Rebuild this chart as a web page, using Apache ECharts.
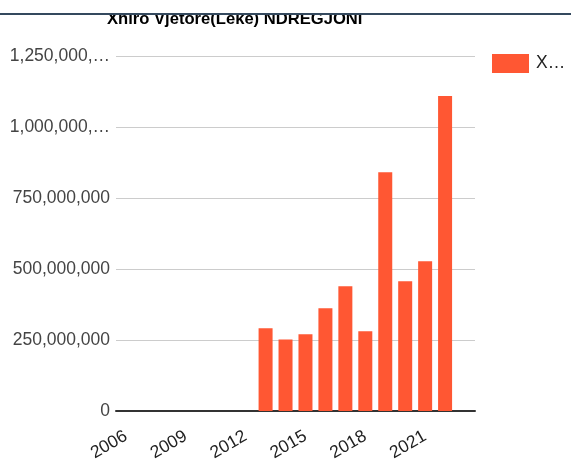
<!DOCTYPE html>
<html>
<head>
<meta charset="utf-8">
<script src="https://cdn.jsdelivr.net/npm/echarts@6/dist/echarts.min.js"></script>
<style>
  html, body { margin: 0; padding: 0; background: #fff; }
  #chart { width: 571px; height: 459px; }
</style>
</head>
<body>
<div id="chart"></div>
<script>
// te dhenat
const titleText = "Xhiro Vjetore(Leke) NDREGJONI";
const seriesName = "Xhiro Vjetore(Leke) NDREGJONI";
const years = ["2006", "2007", "2008", "2009", "2010", "2011", "2012", "2013", "2014",
  "2015", "2016", "2017", "2018", "2019", "2020", "2021", "2022", "2023"];
const xhiro = [null, null, null, null, null, null, null,
  291000000, 252000000, 270000000, 362000000, 439000000, 281000000,
  841000000, 457000000, 527000000, 1109000000, null];
const yTicks = [0, 250000000, 500000000, 750000000, 1000000000, 1250000000];

const chart = echarts.init(document.getElementById("chart"));

function fmt(v) {
  let s = String(Math.round(v)).replace(/\B(?=(\d{3})+(?!\d))/g, ",");
  if (s.length > 11) s = s.slice(0, 10) + "…";
  return s;
}

const options = {
  animation: false,
  textStyle: { fontFamily: "Arial, 'Liberation Sans', sans-serif" },
  title: {
    text: titleText,
    left: 107,
    top: 11,
    padding: 0,
    textStyle: { fontSize: 16.6, fontWeight: "bold", color: "#000" },
  },
  graphic: [
    // bardhe + vija lart qe mbulon titullin
    { type: "rect", z: 100, shape: { x: 0, y: 0, width: 571, height: 13 }, style: { fill: "#fff" } },
    { type: "rect", z: 100, shape: { x: 0, y: 13, width: 571, height: 2 }, style: { fill: "#34495e" } },
  ],
  legend: {
    show: true,
    left: 492,
    top: 54,
    padding: 0,
    itemWidth: 37,
    itemHeight: 19,
    icon: "rect",
    formatter: () => "X…",
    textStyle: { fontSize: 17.5, color: "#222", padding: [0, 0, 0, 2] },
  },
  grid: { left: 116, right: 96, top: 56, bottom: 48, containLabel: false, outerBoundsMode: "none" },
  xAxis: {
    type: "category",
    data: years,
    axisLine: { show: true, lineStyle: { color: "#333", width: 2 } },
    axisTick: { show: false },
    axisLabel: {
      interval: 2,
      rotate: 30,
      fontSize: 17.5,
      color: "#222",
      margin: 24,
    },
  },
  yAxis: {
    type: "value",
    min: 0,
    max: yTicks[yTicks.length - 1],
    interval: 250000000,
    axisLine: { show: false },
    axisTick: { show: false },
    axisLabel: { formatter: fmt, fontSize: 17.5, color: "#444", margin: 6 },
    splitLine: { show: true, lineStyle: { color: "#ccc", width: 1 } },
  },
  series: [
    {
      name: seriesName,
      type: "bar",
      data: xhiro,
      barWidth: 14,
      itemStyle: { color: "#ff5733" },
    },
  ],
};
chart.setOption(options);
</script>
</body>
</html>
